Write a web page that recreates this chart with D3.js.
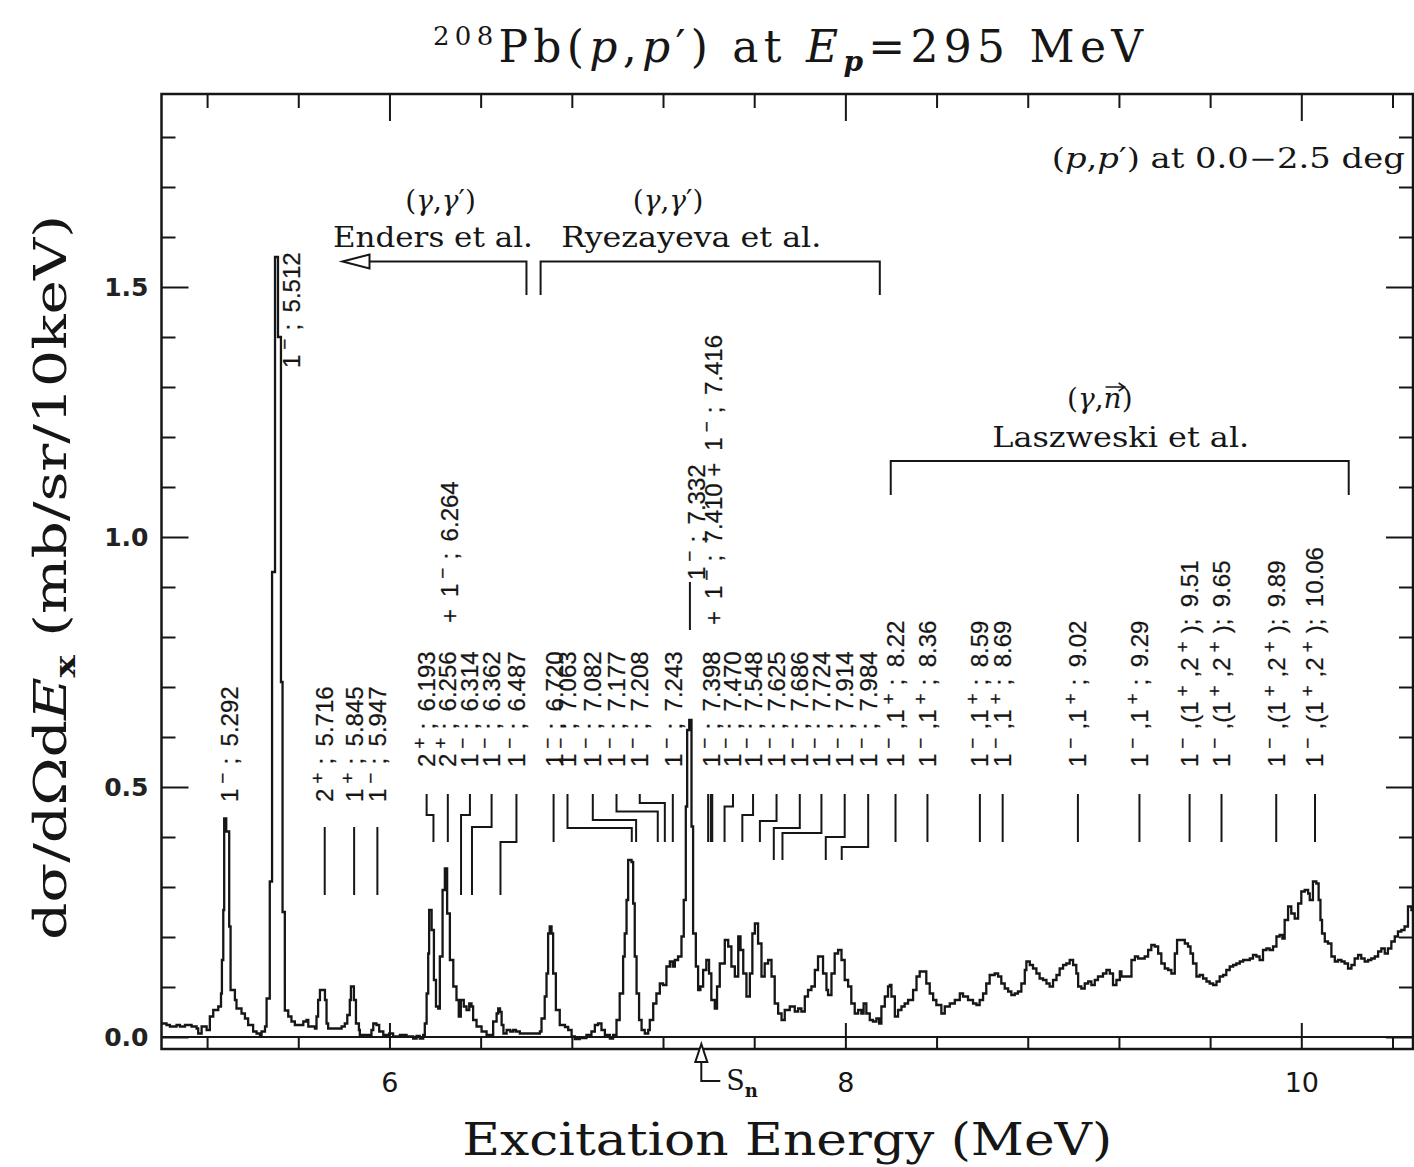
<!DOCTYPE html>
<html>
<head>
<meta charset="utf-8">
<title>208Pb(p,p') at Ep=295 MeV</title>
<script src="https://cdn.jsdelivr.net/npm/d3@7/dist/d3.min.js"></script>
<style>
  body { margin: 0; background: #ffffff; }
  svg { display: block; }
</style>
</head>
<body>
<svg id="canvas" width="1414" height="1167"></svg>
<script>
// DATA: spectrum corners (excitation energy in MeV, cross section in mb/sr/10keV)
const specE = [
  5.000, 5.022, 5.037, 5.066, 5.081, 5.103, 5.132, 5.154, 5.161, 5.176, 5.198, 5.212, 5.227, 5.249, 5.261, 5.265,
  5.271, 5.275, 5.284, 5.297, 5.303, 5.322, 5.329, 5.351, 5.366, 5.380, 5.402, 5.417, 5.432, 5.439, 5.454, 5.461,
  5.475, 5.485, 5.498, 5.511, 5.524, 5.531, 5.541, 5.556, 5.570, 5.585, 5.607, 5.622, 5.636, 5.644, 5.673, 5.680,
  5.687, 5.695, 5.717, 5.724, 5.731, 5.790, 5.804, 5.815, 5.826, 5.831, 5.844, 5.853, 5.866, 5.870, 5.921, 5.929,
  5.943, 5.955, 5.973, 5.999, 6.016, 6.046, 6.075, 6.104, 6.119, 6.133, 6.148, 6.155, 6.163, 6.170, 6.174, 6.185,
  6.195, 6.204, 6.214, 6.221, 6.233, 6.243, 6.253, 6.265, 6.280, 6.294, 6.304, 6.313, 6.326, 6.338, 6.350, 6.360,
  6.367, 6.382, 6.404, 6.426, 6.455, 6.470, 6.477, 6.485, 6.492, 6.500, 6.514, 6.530, 6.543, 6.555, 6.572, 6.630,
  6.660, 6.667, 6.681, 6.689, 6.696, 6.703, 6.711, 6.718, 6.730, 6.747, 6.770, 6.784, 6.799, 6.813, 6.835, 6.864,
  6.886, 6.901, 6.915, 6.930, 6.945, 6.967, 6.981, 6.996, 7.010, 7.025, 7.032, 7.040, 7.047, 7.062, 7.069, 7.076,
  7.084, 7.095, 7.106, 7.120, 7.135, 7.142, 7.157, 7.171, 7.186, 7.200, 7.215, 7.230, 7.242, 7.252, 7.266, 7.281,
  7.291, 7.300, 7.306, 7.315, 7.325, 7.332, 7.344, 7.354, 7.364, 7.376, 7.390, 7.402, 7.412, 7.427, 7.437, 7.449,
  7.471, 7.486, 7.500, 7.515, 7.530, 7.540, 7.552, 7.566, 7.581, 7.592, 7.603, 7.617, 7.632, 7.646, 7.661, 7.676,
  7.690, 7.705, 7.720, 7.734, 7.756, 7.778, 7.793, 7.807, 7.822, 7.836, 7.851, 7.866, 7.880, 7.895, 7.902, 7.917,
  7.924, 7.939, 7.953, 7.968, 7.983, 7.997, 8.012, 8.026, 8.041, 8.056, 8.070, 8.080, 8.092, 8.107, 8.121, 8.136,
  8.148, 8.158, 8.173, 8.187, 8.195, 8.202, 8.217, 8.231, 8.246, 8.260, 8.275, 8.297, 8.312, 8.326, 8.341, 8.355,
  8.370, 8.385, 8.399, 8.421, 8.436, 8.458, 8.480, 8.502, 8.516, 8.538, 8.560, 8.575, 8.589, 8.604, 8.618, 8.633,
  8.655, 8.670, 8.684, 8.699, 8.714, 8.728, 8.743, 8.757, 8.772, 8.787, 8.794, 8.809, 8.823, 8.838, 8.852, 8.867,
  8.882, 8.896, 8.911, 8.926, 8.940, 8.955, 8.969, 8.984, 8.999, 9.013, 9.021, 9.035, 9.050, 9.065, 9.079, 9.094,
  9.108, 9.130, 9.145, 9.160, 9.174, 9.189, 9.204, 9.211, 9.247, 9.255, 9.270, 9.284, 9.299, 9.313, 9.328, 9.342,
  9.357, 9.372, 9.386, 9.401, 9.416, 9.430, 9.445, 9.455, 9.474, 9.489, 9.503, 9.514, 9.525, 9.540, 9.554, 9.569,
  9.584, 9.598, 9.613, 9.628, 9.642, 9.657, 9.671, 9.686, 9.701, 9.715, 9.730, 9.745, 9.759, 9.774, 9.788, 9.803,
  9.817, 9.832, 9.847, 9.861, 9.876, 9.891, 9.905, 9.917, 9.927, 9.942, 9.956, 9.971, 9.986, 10.000, 10.015, 10.030,
  10.037, 10.051, 10.066, 10.076, 10.084, 10.091, 10.103, 10.117, 10.132, 10.147, 10.161, 10.176, 10.190, 10.205, 10.220, 10.234,
  10.249, 10.263, 10.278, 10.293, 10.307, 10.322, 10.337, 10.351, 10.366, 10.380, 10.395, 10.410, 10.424, 10.439, 10.453, 10.468,
  10.483, 10.495
];
const specV = [
  0.027, 0.024, 0.021, 0.024, 0.021, 0.024, 0.021, 0.017, 0.007, 0.021, 0.014, 0.041, 0.054, 0.061, 0.087, 0.154,
  0.254, 0.437, 0.411, 0.221, 0.094, 0.074, 0.057, 0.047, 0.037, 0.024, 0.011, 0.007, 0.002, 0.011, 0.021, 0.077,
  0.311, 0.930, 1.560, 1.400, 0.710, 0.250, 0.053, 0.041, 0.031, 0.024, 0.024, 0.031, 0.034, 0.021, 0.017, 0.041,
  0.074, 0.094, 0.074, 0.027, 0.017, 0.021, 0.027, 0.044, 0.074, 0.101, 0.074, 0.027, 0.014, 0.004, 0.014, 0.027,
  0.024, 0.011, 0.004, 0.007, 0.001, 0.004, 0.001, -0.003, 0.002, -0.003, 0.004, 0.027, 0.087, 0.167, 0.254, 0.214,
  0.114, 0.061, 0.057, 0.161, 0.294, 0.337, 0.247, 0.154, 0.101, 0.074, 0.041, 0.074, 0.061, 0.054, 0.067, 0.061,
  0.034, 0.021, 0.011, 0.004, 0.031, 0.047, 0.057, 0.050, 0.024, 0.007, 0.014, 0.011, 0.014, 0.011, 0.007, 0.007,
  0.011, 0.037, 0.081, 0.127, 0.207, 0.221, 0.207, 0.127, 0.054, 0.024, 0.020, 0.014, 0.001, -0.004, -0.002, 0.004,
  0.011, 0.024, 0.027, 0.014, 0.004, -0.003, 0.004, 0.034, 0.087, 0.161, 0.207, 0.274, 0.354, 0.350, 0.267, 0.161,
  0.087, 0.034, 0.014, 0.007, 0.014, 0.034, 0.067, 0.087, 0.107, 0.104, 0.141, 0.151, 0.141, 0.154, 0.161, 0.201,
  0.274, 0.461, 0.614, 0.634, 0.421, 0.207, 0.141, 0.094, 0.101, 0.134, 0.154, 0.127, 0.074, 0.057, 0.101, 0.147,
  0.194, 0.181, 0.141, 0.121, 0.201, 0.174, 0.127, 0.081, 0.127, 0.207, 0.227, 0.187, 0.121, 0.147, 0.154, 0.121,
  0.067, 0.047, 0.034, 0.054, 0.061, 0.051, 0.057, 0.051, 0.081, 0.094, 0.101, 0.134, 0.161, 0.161, 0.127, 0.094,
  0.084, 0.127, 0.167, 0.174, 0.154, 0.114, 0.101, 0.067, 0.047, 0.054, 0.047, 0.067, 0.047, 0.034, 0.031, 0.037,
  0.027, 0.061, 0.081, 0.101, 0.104, 0.081, 0.041, 0.054, 0.061, 0.067, 0.074, 0.094, 0.121, 0.131, 0.131, 0.107,
  0.087, 0.074, 0.064, 0.047, 0.061, 0.067, 0.074, 0.087, 0.081, 0.074, 0.067, 0.064, 0.074, 0.087, 0.107, 0.124,
  0.127, 0.121, 0.107, 0.097, 0.091, 0.084, 0.087, 0.091, 0.107, 0.134, 0.151, 0.144, 0.137, 0.127, 0.117, 0.114,
  0.107, 0.101, 0.114, 0.124, 0.137, 0.144, 0.147, 0.154, 0.144, 0.127, 0.101, 0.097, 0.107, 0.111, 0.104, 0.114,
  0.121, 0.127, 0.134, 0.127, 0.104, 0.114, 0.131, 0.121, 0.121, 0.154, 0.161, 0.157, 0.157, 0.161, 0.174, 0.184,
  0.181, 0.167, 0.147, 0.137, 0.134, 0.127, 0.167, 0.194, 0.194, 0.187, 0.181, 0.167, 0.147, 0.121, 0.124, 0.117,
  0.111, 0.107, 0.104, 0.111, 0.121, 0.124, 0.134, 0.141, 0.144, 0.147, 0.151, 0.154, 0.154, 0.157, 0.164, 0.161,
  0.154, 0.174, 0.177, 0.174, 0.181, 0.201, 0.204, 0.197, 0.234, 0.261, 0.247, 0.237, 0.267, 0.291, 0.294, 0.287,
  0.274, 0.311, 0.307, 0.274, 0.234, 0.207, 0.191, 0.187, 0.161, 0.151, 0.154, 0.151, 0.147, 0.137, 0.144, 0.157,
  0.164, 0.157, 0.151, 0.154, 0.157, 0.161, 0.171, 0.177, 0.167, 0.177, 0.191, 0.201, 0.211, 0.214, 0.221, 0.261,
  0.254, 0.247
];

// known levels (MeV) marked by a tick, and where the tick's label column sits
const levelE   = [5.716, 5.845, 5.947, 6.193, 6.256, 6.314, 6.362, 6.487, 6.720, 7.063, 7.082, 7.177, 7.208, 7.243,
                  7.398, 7.410, 7.416, 7.470, 7.548, 7.625, 7.686, 7.724, 7.914, 7.984, 8.22, 8.36, 8.59, 8.69,
                  9.02, 9.29, 9.51, 9.65, 9.89, 10.06];
const levelCol = [5.716, 5.845, 5.947, 6.163, 6.256, 6.353, 6.448, 6.557, 6.720, 6.781, 6.892, 6.996, 7.098, 7.243,
                  7.398, 7.410, 7.416, 7.507, 7.595, 7.698, 7.800, 7.895, 7.997, 8.100, 8.22, 8.36, 8.59, 8.69,
                  9.02, 9.29, 9.51, 9.65, 9.89, 10.06];
const levelTop    = [0.42, 0.42, 0.42, 0.486, 0.486, 0.486, 0.486, 0.486, 0.486, 0.486, 0.486, 0.486, 0.486, 0.486,
                     0.486, 0.486, 0.486, 0.486, 0.486, 0.486, 0.486, 0.486, 0.486, 0.486, 0.486, 0.486, 0.486, 0.486,
                     0.486, 0.486, 0.486, 0.486, 0.486, 0.486];
const levelKnee   = [null, null, null, 0.444, null, 0.444, 0.42, 0.39, null, 0.418, 0.434, 0.451, 0.468, null,
                     null, null, null, 0.461, 0.444, 0.432, 0.418, 0.408, 0.40, 0.38, null, null, null, null,
                     null, null, null, null, null, null];
const levelBottom = [0.284, 0.284, 0.284, 0.39, 0.39, 0.284, 0.284, 0.284, 0.39, 0.39, 0.39, 0.39, 0.39, 0.39,
                     0.39, 0.39, 0.39, 0.39, 0.39, 0.39, 0.354, 0.354, 0.354, 0.354, 0.39, 0.39, 0.39, 0.39,
                     0.39, 0.39, 0.39, 0.39, 0.39, 0.39];

// spin/energy labels ("^-" and "^+" are superscript parities)
const labelText = ["1^-; 5.292", "1^-; 5.512", "2^+; 5.716", "1^+; 5.845", "1^-; 5.947",
                   "2^+; 6.193", "2^+; 6.256", "+ 1^-; 6.264", "1^-; 6.314", "1^-; 6.362", "1^-; 6.487",
                   "1^-; 6.720", "1^-; 7.063", "1^-; 7.082", "1^-; 7.177", "1^-; 7.208", "1^-; 7.243",
                   "1^-; 7.332", "+ 1^-; 7.410 + 1^-; 7.416", "1^-; 7.398", "1^-; 7.470", "1^-; 7.548",
                   "1^-; 7.625", "1^-; 7.686", "1^-; 7.724", "1^-; 7.914", "1^-; 7.984",
                   "1^-,1^+; 8.22", "1^-,1^+; 8.36", "1^-,1^+; 8.59", "1^-,1^+; 8.69", "1^-,1^+; 9.02",
                   "1^-,1^+; 9.29", "1^-,(1^+,2^+); 9.51", "1^-,(1^+,2^+); 9.65", "1^-,(1^+,2^+); 9.89",
                   "1^-,(1^+,2^+); 10.06"];
const labelE = [5.300, 5.572, 5.716, 5.845, 5.947,
                6.163, 6.256, 6.265, 6.353, 6.448, 6.557,
                6.725, 6.781, 6.892, 6.996, 7.098, 7.244,
                7.349, 7.423, 7.413, 7.507, 7.595,
                7.698, 7.800, 7.895, 7.997, 8.100,
                8.22, 8.36, 8.59, 8.69, 9.02,
                9.29, 9.51, 9.65, 9.89,
                10.06];
const labelBase = [0.47, 1.338, 0.47, 0.47, 0.47,
                   0.54, 0.54, 0.828, 0.54, 0.54, 0.54,
                   0.54, 0.54, 0.54, 0.54, 0.54, 0.54,
                   0.914, 0.824, 0.54, 0.54, 0.54,
                   0.54, 0.54, 0.54, 0.54, 0.54,
                   0.54, 0.54, 0.54, 0.54, 0.54,
                   0.54, 0.54, 0.54, 0.54,
                   0.54];

// axis ticks
const xMajorTicks = [6, 8, 10];
const xMinorTicks = [5.2, 5.6, 6.4, 6.8, 7.2, 7.6, 8.4, 8.8, 9.2, 9.6, 10.4];
const yMajorTicks = [0, 0.5, 1.0, 1.5];
const yMinorTicks = [0.1, 0.2, 0.3, 0.4, 0.6, 0.7, 0.8, 0.9, 1.1, 1.2, 1.3, 1.4, 1.6, 1.7, 1.8];

// neutron separation energy and the experiment ranges (MeV)
const snE = 7.368;
const endersRange = [5.794, 6.601];
const ryezayevaRange = [6.663, 8.151];
const laszweskiRange = [8.199, 10.208];

// CANVAS SETUP
const canvas = d3.select("#canvas");
const W = +canvas.attr("width"),
  H = +canvas.attr("height");
const margin = { top: 94, right: 1, bottom: 118, left: 161.5 };
const ink = "#161616";

const x = d3.scaleLinear().domain([5.0, 10.49]).range([margin.left, W - margin.right]);
const y = d3.scaleLinear().domain([-0.024, 1.886]).range([H - margin.bottom, margin.top]);

const [x0, x1] = x.range();
const [yb, yt] = y.range();

canvas.append("rect").attr("width", W).attr("height", H).attr("fill", "#fff");

canvas.append("defs").append("clipPath").attr("id", "plotClip")
  .append("rect").attr("x", x0).attr("y", yt).attr("width", x1 - x0).attr("height", yb - yt);

// AXES
function styleAxis(g) {
  g.select(".domain").remove();
  g.selectAll(".tick line").attr("stroke", ink).attr("stroke-width", 2);
  return g;
}

canvas.append("g").attr("transform", `translate(0,${yb})`)
  .call(d3.axisBottom(x).tickValues(xMinorTicks).tickSize(-13).tickFormat(""))
  .call(styleAxis);
canvas.append("g").attr("transform", `translate(0,${yb})`)
  .call(d3.axisBottom(x).tickValues(xMajorTicks).tickSize(-26).tickPadding(24).tickFormat(d3.format("d")))
  .call(styleAxis)
  .call(g => g.selectAll("text").attr("fill", ink).attr("font-family", "DejaVu Sans")
    .attr("font-size", 27));
canvas.append("g").attr("transform", `translate(0,${yt})`)
  .call(d3.axisTop(x).tickValues(xMinorTicks).tickSize(-14).tickFormat(""))
  .call(styleAxis);
canvas.append("g").attr("transform", `translate(0,${yt})`)
  .call(d3.axisTop(x).tickValues(xMajorTicks).tickSize(-27).tickFormat(""))
  .call(styleAxis);

canvas.append("g").attr("transform", `translate(${x0},0)`)
  .call(d3.axisLeft(y).tickValues(yMinorTicks).tickSize(-14).tickFormat(""))
  .call(styleAxis);
canvas.append("g").attr("transform", `translate(${x0},0)`)
  .call(d3.axisLeft(y).tickValues(yMajorTicks).tickSize(-27).tickPadding(13).tickFormat(d3.format(".1f")))
  .call(styleAxis)
  .call(g => g.selectAll("text").attr("fill", "#222").attr("font-family", "DejaVu Sans")
    .attr("font-weight", "bold").attr("font-size", 25));
canvas.append("g").attr("transform", `translate(${x1},0)`)
  .call(d3.axisRight(y).tickValues(yMinorTicks).tickSize(-14).tickFormat(""))
  .call(styleAxis);
canvas.append("g").attr("transform", `translate(${x1},0)`)
  .call(d3.axisRight(y).tickValues(yMajorTicks).tickSize(-27).tickFormat(""))
  .call(styleAxis);

// frame and zero line
canvas.append("rect")
  .attr("x", x0).attr("y", yt).attr("width", x1 - x0).attr("height", yb - yt)
  .attr("fill", "none").attr("stroke", ink).attr("stroke-width", 2.5);
canvas.append("line")
  .attr("x1", x0).attr("x2", x1).attr("y1", y(0)).attr("y2", y(0))
  .attr("stroke", ink).attr("stroke-width", 2);

// SPECTRUM
const spectrum = specE.map((e, i) => [e, specV[i]]);
const line = d3.line().x(d => x(d[0])).y(d => y(d[1])).curve(d3.curveStepAfter);

canvas.append("path")
  .datum(spectrum)
  .attr("clip-path", "url(#plotClip)")
  .attr("d", line)
  .attr("fill", "none")
  .attr("stroke", ink)
  .attr("stroke-width", 2.3)
  .attr("stroke-linejoin", "miter");

// LEVEL TICKS
const gl = canvas.append("g").attr("fill", "none").attr("stroke", ink).attr("stroke-width", 2);
levelE.forEach((e, i) => {
  const p = d3.path();
  p.moveTo(x(levelCol[i]), y(levelTop[i]));
  if (levelKnee[i] !== null) {
    p.lineTo(x(levelCol[i]), y(levelKnee[i]));
    p.lineTo(x(e), y(levelKnee[i]));
  }
  p.lineTo(x(e), y(levelBottom[i]));
  gl.append("path").attr("d", p.toString());
});

// LEVEL LABELS
function levelText(sel, str) {
  const parts = str.split(/(\^[+-])/).filter(s => s !== "");
  let raised = false;
  parts.forEach(s => {
    if (s === "^-" || s === "^+") {
      sel.append("tspan").attr("dx", 5).attr("dy", raised ? 0 : -9).attr("font-size", 19)
        .text(s === "^-" ? "\u2212" : "+");
      raised = true;
    } else {
      sel.append("tspan").attr("dx", raised ? 8 : 0).attr("dy", raised ? 9 : 0)
        .text(s.replace("; ", ";\u2009 ").replace(/\+ /g, "+\u2002"));
      raised = false;
    }
  });
}

const glab = canvas.append("g")
  .attr("font-family", "Liberation Sans, Arial, sans-serif")
  .attr("font-size", 24)
  .attr("fill", ink)
  .attr("stroke", ink)
  .attr("stroke-width", 0.25);
labelText.forEach((t, i) => {
  const tx = glab.append("text")
    .attr("transform", `translate(${x(labelE[i]) + 8.5},${y(labelBase[i])}) rotate(-90)`);
  levelText(tx, t);
});

// small marker next to the 7.332 label
canvas.append("line")
  .attr("x1", x(7.318)).attr("x2", x(7.318))
  .attr("y1", y(0.91)).attr("y2", y(0.814))
  .attr("stroke", ink).attr("stroke-width", 2);

// ANNOTATIONS
const serif = "DejaVu Serif, Liberation Serif, serif";

function runs(sel, parts) {
  parts.forEach(([t, s]) => {
    const ts = sel.append("tspan").text(t);
    if (s === "i") ts.attr("font-style", "italic");
  });
  return sel;
}

const ga = canvas.append("g").attr("font-family", serif).attr("fill", ink);

// Enders arrow
const yArrow = y(1.551), yFoot = y(1.484);
ga.append("path")
  .attr("d", `M${x(endersRange[0]) + 27},${yArrow}H${x(endersRange[1])}V${yFoot}`)
  .attr("fill", "none").attr("stroke", ink).attr("stroke-width", 2);
ga.append("path")
  .attr("d", `M${x(endersRange[0])},${yArrow}L${x(endersRange[0]) + 27},${yArrow - 7}V${yArrow + 7}Z`)
  .attr("fill", "#fff").attr("stroke", ink).attr("stroke-width", 2);

// Ryezayeva bracket
ga.append("path")
  .attr("d", `M${x(ryezayevaRange[0])},${yFoot}V${yArrow}H${x(ryezayevaRange[1])}V${yFoot}`)
  .attr("fill", "none").attr("stroke", ink).attr("stroke-width", 2);

// Laszweski bracket
ga.append("path")
  .attr("d", `M${x(laszweskiRange[0])},${y(1.084)}V${y(1.152)}H${x(laszweskiRange[1])}V${y(1.084)}`)
  .attr("fill", "none").attr("stroke", ink).attr("stroke-width", 2);

runs(ga.append("text").attr("x", x(6.224)).attr("y", y(1.654)).attr("text-anchor", "middle")
  .attr("font-size", 28), [["(", ""], ["γ", "i"], [",", ""], ["γ", "i"], ["′)", ""]]);
runs(ga.append("text").attr("x", x(7.222)).attr("y", y(1.654)).attr("text-anchor", "middle")
  .attr("font-size", 28), [["(", ""], ["γ", "i"], [",", ""], ["γ", "i"], ["′)", ""]]);
ga.append("text").attr("x", x(5.752)).attr("y", y(1.58)).attr("font-size", 27)
  .attr("textLength", 200).attr("lengthAdjust", "spacingAndGlyphs").text("Enders et al.");
ga.append("text").attr("x", x(6.754)).attr("y", y(1.58)).attr("font-size", 27)
  .attr("textLength", 260).attr("lengthAdjust", "spacingAndGlyphs").text("Ryezayeva et al.");

const gn = ga.append("text").attr("x", x(9.116)).attr("y", y(1.258)).attr("text-anchor", "middle")
  .attr("font-size", 28);
runs(gn, [["(", ""], ["γ", "i"], [",", ""], ["n", "i"], [")", ""]]);
// vector arrow over the n
const nStart = gn.node().getStartPositionOfChar(3),
  nEnd = gn.node().getEndPositionOfChar(3);
const ya = nStart.y - 21;
ga.append("path")
  .attr("d", `M${nStart.x + 2},${ya}H${nEnd.x + 3}M${nEnd.x - 3},${ya - 4}L${nEnd.x + 3},${ya}L${nEnd.x - 3},${ya + 4}`)
  .attr("fill", "none").attr("stroke", ink).attr("stroke-width", 1.6);
ga.append("text").attr("x", x(9.208)).attr("y", y(1.18)).attr("text-anchor", "middle")
  .attr("font-size", 27).attr("textLength", 257).attr("lengthAdjust", "spacingAndGlyphs")
  .text("Laszweski et al.");

runs(ga.append("text").attr("x", x(10.454)).attr("y", y(1.738)).attr("text-anchor", "end")
  .attr("font-size", 27).attr("textLength", 353).attr("lengthAdjust", "spacingAndGlyphs"),
  [["(", ""], ["p", "i"], [",", ""], ["p", "i"], ["′) at 0.0\u22122.5 deg", ""]]);

// Sn marker below the axis
const xs = x(snE);
ga.append("path")
  .attr("d", `M${xs},${yb + 13}V${yb + 32}H${xs + 19}`)
  .attr("fill", "none").attr("stroke", ink).attr("stroke-width", 2);
ga.append("path")
  .attr("d", `M${xs},${yb - 5}L${xs - 6},${yb + 13}H${xs + 6}Z`)
  .attr("fill", "#fff").attr("stroke", ink).attr("stroke-width", 2);
const snText = ga.append("text").attr("x", xs + 25).attr("y", yb + 41).attr("font-size", 27);
snText.append("tspan").text("S");
snText.append("tspan").attr("dy", 7).attr("font-size", 18).attr("font-weight", "bold").text("n");

// TITLES
const title = canvas.append("text")
  .attr("x", 433).attr("y", 62)
  .attr("font-family", serif).attr("font-size", 44).attr("fill", ink)
  .attr("textLength", 710).attr("lengthAdjust", "spacing");
title.append("tspan").attr("font-size", 26).attr("dy", -17).text("208");
title.append("tspan").attr("dy", 17).text("Pb(");
title.append("tspan").attr("font-style", "italic").text("p");
title.append("tspan").text(",");
title.append("tspan").attr("font-style", "italic").text("p");
title.append("tspan").text("′) at ");
title.append("tspan").attr("font-style", "italic").text("E");
title.append("tspan").attr("font-style", "italic").attr("font-weight", "bold").attr("font-size", 28)
  .attr("dy", 9).text("p");
title.append("tspan").attr("dy", -9).text("=295 MeV");

canvas.append("text")
  .attr("x", (x0 + x1) / 2).attr("y", 1155)
  .attr("text-anchor", "middle")
  .attr("font-family", serif).attr("font-size", 44).attr("fill", ink)
  .attr("textLength", 650).attr("lengthAdjust", "spacingAndGlyphs")
  .text("Excitation Energy (MeV)");

const ytitle = canvas.append("text")
  .attr("transform", `translate(66,${(yt + yb) / 2 + 6}) rotate(-90)`)
  .attr("text-anchor", "middle")
  .attr("font-family", serif).attr("font-size", 44).attr("fill", ink)
  .attr("textLength", 725).attr("lengthAdjust", "spacingAndGlyphs");
ytitle.append("tspan").text("dσ/dΩd");
ytitle.append("tspan").attr("font-style", "italic").text("E");
ytitle.append("tspan").attr("font-size", 28).attr("font-weight", "bold").attr("dy", 9).text("x");
ytitle.append("tspan").attr("dy", -9).text(" (mb/sr/10keV)");
</script>
</body>
</html>
